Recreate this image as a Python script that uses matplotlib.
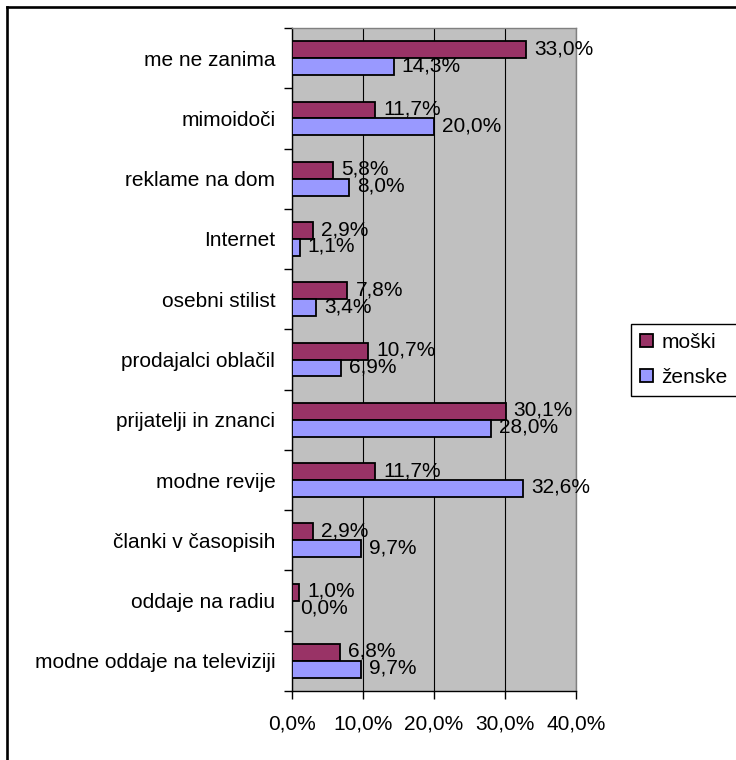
import matplotlib
matplotlib.use("Agg")
import matplotlib.pyplot as plt
from matplotlib.lines import Line2D
import numpy as np

categories = [
    "me ne zanima",
    "mimoidoči",
    "reklame na dom",
    "Internet",
    "osebni stilist",
    "prodajalci oblačil",
    "prijatelji in znanci",
    "modne revije",
    "članki v časopisih",
    "oddaje na radiu",
    "modne oddaje na televiziji",
]
moski = [33.0, 11.7, 5.8, 2.9, 7.8, 10.7, 30.1, 11.7, 2.9, 1.0, 6.8]
zenske = [14.3, 20.0, 8.0, 1.1, 3.4, 6.9, 28.0, 32.6, 9.7, 0.0, 9.7]
series_names = ["moški", "ženske"]
x_ticks = [0, 10, 20, 30, 40]

plt.rcParams["font.family"] = ["Liberation Sans", "DejaVu Sans"]
FS = 15

W, H = 736, 760
fig = plt.figure(figsize=(W / 100, H / 100), dpi=100)
fig.patch.set_facecolor("white")

left, right, top, bottom = 292, 576, 28, 691
ax = fig.add_axes([left / W, 1 - bottom / H, (right - left) / W, (bottom - top) / H])
ax.set_facecolor("#C0C0C0")

y = np.arange(len(categories))
h = 0.28
colors = ["#993366", "#9999FF"]
bars_m = ax.barh(y - h / 2, moski, height=h, color=colors[0], edgecolor="black",
                 linewidth=1.3, label=series_names[0], zorder=3)
bars_z = ax.barh(y + h / 2, zenske, height=h, color=colors[1], edgecolor="black",
                 linewidth=1.3, label=series_names[1], zorder=3)

def fmt(v):
    return f"{v:.1f}%".replace(".", ",")

for yy, vals in ((y - h / 2, moski), (y + h / 2, zenske)):
    for yi, v in zip(yy, vals):
        ax.annotate(fmt(v), xy=(v, yi), xytext=(8, 1), textcoords="offset pixels",
                    ha="left", va="center", fontsize=FS, color="black", zorder=5,
                    annotation_clip=False)

ax.set_xlim(0, 40)
ax.set_ylim(len(categories) - 0.5, -0.5)
ax.set_xticks(x_ticks)
ax.set_xticklabels([fmt(t) for t in x_ticks], fontsize=FS)
ax.xaxis.grid(True, color="black", linewidth=0.8, zorder=1)
ax.set_axisbelow(True)

ax.set_yticks(y)
ax.set_yticklabels(categories, fontsize=FS)
ax.set_yticks(np.arange(-0.5, len(categories), 1.0), minor=True)
ax.tick_params(axis="y", which="major", length=0, pad=12)
ax.tick_params(axis="y", which="minor", length=6, width=1, direction="out", color="black")
ax.tick_params(axis="x", which="major", length=6, width=1, direction="out", pad=11)

for s in ("left", "bottom"):
    ax.spines[s].set_color("black")
    ax.spines[s].set_linewidth(1)
for s in ("top", "right"):
    ax.spines[s].set_color("#808080")
    ax.spines[s].set_linewidth(1)

leg = fig.legend(handles=[bars_m, bars_z], labels=series_names, loc="center left",
                 bbox_to_anchor=(631 / W, 1 - 360 / H), fontsize=FS, frameon=True,
                 fancybox=False, edgecolor="black", framealpha=1,
                 handlelength=0.6, handleheight=0.6, handletextpad=0.4,
                 labelspacing=0.75, borderpad=0.45, borderaxespad=0)
leg.get_frame().set_linewidth(1)

# chart area border (top and left edges)
bx, by = 7.3 / W, 1 - 7.3 / H
fig.add_artist(Line2D([bx, 1.0], [by, by], color="black", linewidth=1.9,
                      transform=fig.transFigure))
fig.add_artist(Line2D([bx, bx], [0, by], color="black", linewidth=1.9,
                      transform=fig.transFigure))

fig.savefig("out.png", dpi=100)
